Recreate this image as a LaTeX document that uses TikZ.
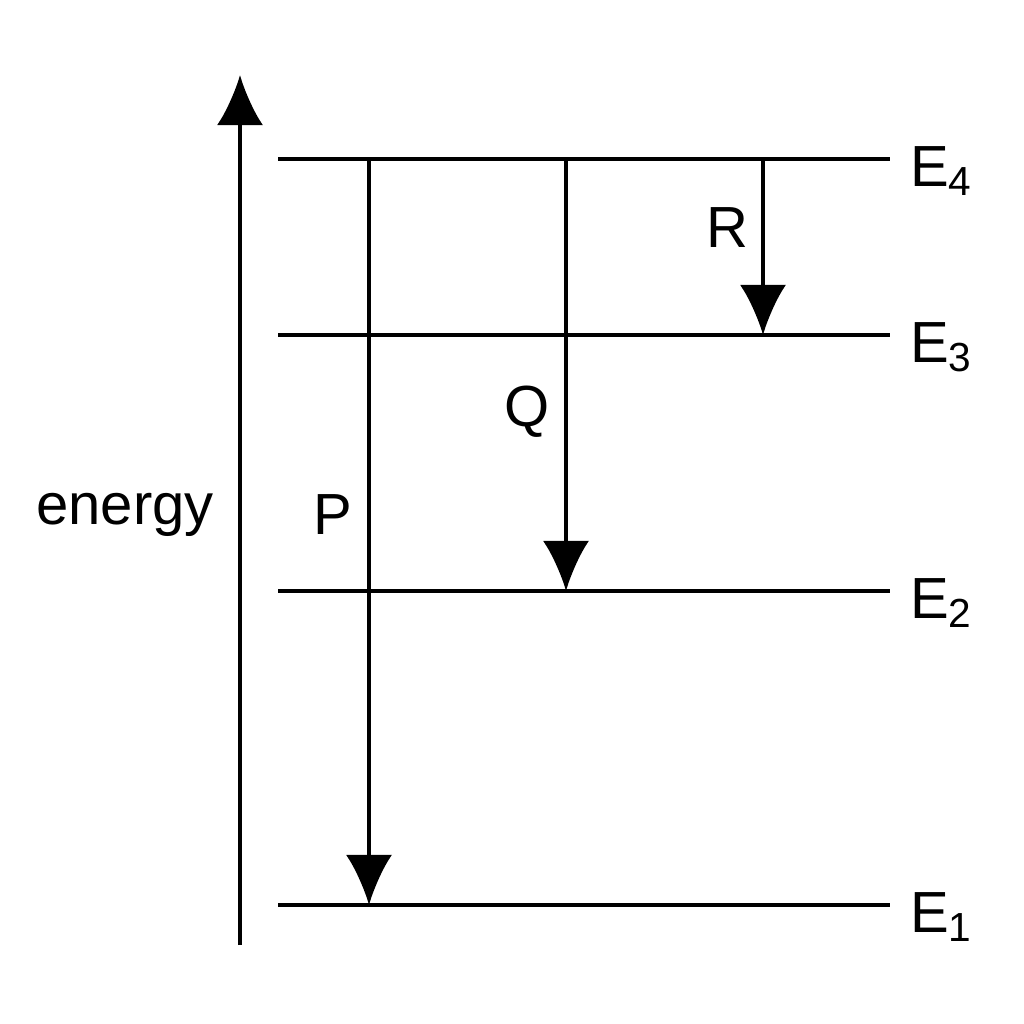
\documentclass[tikz,border=0pt]{standalone}
\usepackage{fontspec}
\setmainfont{Liberation Sans}
\usetikzlibrary{arrows.meta}
\begin{document}
\begin{tikzpicture}[x=0.01cm,y=-0.01cm,
  line width=1.2pt,
  arr/.style={-{Latex[length=0.5cm,width=0.46cm]}},
  lab/.style={font=\fontsize{16.5}{18}\selectfont, inner sep=0pt}]
\useasboundingbox (0,0) rectangle (1024,1024);
\coordinate (a0) at (240,945); \coordinate (a1) at (240,75);
\draw[arr] (a0) -- (a1);
\node[lab] (en) at (125,515) {energy};
\foreach \n/\y in {4/159,3/335,2/591,1/905}{
  \coordinate (L\n a) at (278,\y); \coordinate (L\n b) at (890,\y);
  \draw (L\n a) -- (L\n b);
  \node[lab,anchor=west] (E\n) at (908,\y+12) {E\textsubscript{\n}};
}
\coordinate (p0) at (369,159); \coordinate (p1) at (369,905);
\coordinate (q0) at (566,159); \coordinate (q1) at (566,591);
\coordinate (r0) at (763,159); \coordinate (r1) at (763,335);
\draw[arr] (p0) -- (p1);
\draw[arr] (q0) -- (q1);
\draw[arr] (r0) -- (r1);
\node[lab] (P) at (333,515) {P};
\node[lab] (Q) at (527,412) {Q};
\node[lab] (R) at (727,228) {R};
\end{tikzpicture}
\end{document}
